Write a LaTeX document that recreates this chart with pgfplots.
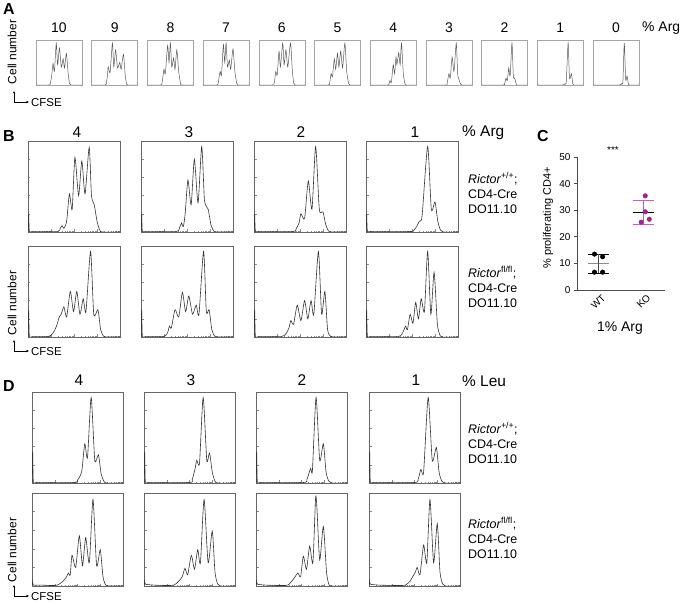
\documentclass[border=0pt]{standalone}
\usepackage{fontspec}
\setmainfont{Liberation Sans}
\usepackage{pgfplots}
\pgfplotsset{compat=1.18}
\usetikzlibrary{arrows.meta}
\definecolor{ko}{RGB}{163,35,143}
\definecolor{kol}{RGB}{200,95,185}
\newcommand\fs[2]{\fontsize{#1}{#2}\selectfont}
\pgfplotsset{
 hb/.style={scale only axis, anchor=south west, xmin=0, xmax=100, ymin=0, ymax=100, clip=true},
 hA/.style={hb, width=46bp, height=45bp, axis line style={black!35, line width=0.5pt}, xtick=\empty, ytick=\empty},
 hB/.style={hb, width=92bp, height=91bp, axis line style={black!60, line width=0.6pt},
   tick pos=left, tick align=inside, xtick={0,25,50,75,100},
   minor xtick={7.5,11.9,15.1,17.5,19.5,21.1,22.6,23.9,32.5,36.9,40.1,42.5,44.5,46.1,47.6,48.9,57.5,61.9,65.1,67.5,69.5,71.1,72.6,73.9,82.5,86.9,90.1,92.5,94.5,96.1,97.6,98.9},
   ytick={0,20,40,60,80,100}, xticklabels={}, yticklabels={},
   major tick length=2.5bp, minor tick length=1.3bp, tick style={black!45, line width=0.4pt}},
 lA/.style={black!65, line width=0.5pt, smooth, tension=0.4, mark=none},
 lB/.style={black!80, line width=0.6pt, smooth, tension=0.4, mark=none},
}
\begin{document}
\begin{tikzpicture}
\path[use as bounding box] (0,0) rectangle (683bp,604bp);
% ---------------- Panel A ----------------
\node[anchor=north west, inner sep=0, font=\bfseries\fs{16}{16}] at (3bp,601bp) {A};
\node[rotate=90, font=\fs{12}{14}] at (12bp,552bp) {Cell number};
\draw[black, line width=0.6pt, {Stealth[length=2.5bp,width=2.2bp]}-{Stealth[length=3bp,width=2.6bp]}] (14bp,513bp) -- (14bp,502bp) -- (29bp,502bp);
\node[anchor=west, inner sep=0, font=\fs{11.5}{13}] at (31bp,501bp) {CFSE};
\foreach \lab [count=\i from 0] in {10,9,8,7,6,5,4,3,2,1,0} {
  \node[font=\fs{14}{16}] at ({(59+55.7*\i)*1bp},576bp) {\lab};
}
\node[anchor=west, inner sep=0, font=\fs{14}{16}] at (642bp,576bp) {\% Arg};

\begin{axis}[hA, at={(36bp,519bp)}]
\addplot[lA] coordinates {(0,0)(28,0)(31,3)(34,20)(37,48)(40,30)(44,93)(47,45)(51,82)(55,40)(59,58)(62,38)(66,70)(70,25)(73,3)(76,0)(100,0)};
\end{axis}
\begin{axis}[hA, at={(91.7bp,519bp)}]
\addplot[lA] coordinates {(0,0)(29,0)(32,5)(34,20)(36,40)(40,28)(45,93)(48,40)(52,78)(56,38)(61,50)(64,35)(69,68)(73,20)(76,2)(78,0)(100,0)};
\end{axis}
\begin{axis}[hA, at={(147.4bp,519bp)}]
\addplot[lA] coordinates {(0,0)(29,0)(32,6)(36,35)(39,25)(44,88)(47,50)(50,93)(53,40)(57,60)(60,35)(64,78)(68,30)(72,4)(75,0)(100,0)};
\end{axis}
\begin{axis}[hA, at={(203.1bp,519bp)}]
\addplot[lA] coordinates {(0,0)(30,0)(33,6)(37,30)(40,22)(44,90)(47,50)(50,93)(53,40)(57,55)(60,35)(65,80)(69,30)(73,4)(76,0)(100,0)};
\end{axis}
\begin{axis}[hA, at={(258.8bp,519bp)}]
\addplot[lA] coordinates {(0,0)(30,0)(34,8)(37,30)(40,22)(44,75)(47,40)(52,93)(55,45)(59,78)(63,40)(69,93)(73,30)(76,4)(79,0)(100,0)};
\end{axis}
\begin{axis}[hA, at={(314.5bp,519bp)}]
\addplot[lA] coordinates {(0,0)(30,0)(33,5)(36,25)(39,18)(43,58)(46,35)(50,70)(53,40)(57,75)(61,38)(66,93)(70,30)(74,4)(77,0)(100,0)};
\end{axis}
\begin{axis}[hA, at={(370.2bp,519bp)}]
\addplot[lA] coordinates {(0,0)(38,0)(41,3)(43,10)(46,6)(50,45)(53,25)(56,62)(58,45)(62,72)(65,45)(68,93)(72,25)(75,5)(78,0)(100,0)};
\end{axis}
\begin{axis}[hA, at={(425.9bp,519bp)}]
\addplot[lA] coordinates {(0,0)(43,0)(46,3)(50,25)(53,15)(57,62)(61,30)(66,93)(69,25)(72,12)(75,3)(78,0)(100,0)};
\end{axis}
\begin{axis}[hA, at={(481.6bp,519bp)}]
\addplot[lA] coordinates {(0,0)(47,0)(50,3)(53,15)(56,10)(59,38)(62,20)(66,93)(69,20)(72,15)(75,3)(77,0)(100,0)};
\end{axis}
\begin{axis}[hA, at={(537.3bp,519bp)}]
\addplot[lA] coordinates {(0,0)(55,0)(60,3)(63,8)(67,93)(70,15)(74,25)(77,3)(79,0)(100,0)};
\end{axis}
\begin{axis}[hA, at={(593bp,519bp)}]
\addplot[lA] coordinates {(0,0)(57,0)(62,3)(65,8)(68,93)(71,12)(74,20)(77,2)(79,0)(100,0)};
\end{axis}

% ---------------- Panel B ----------------
\node[anchor=north west, inner sep=0, font=\bfseries\fs{16}{16}] at (3bp,474bp) {B};
\foreach \lab/\xx in {4/77,3/189,2/301,1/415} {
  \node[font=\fs{15.5}{17}] at (\xx bp,472bp) {\lab};
}
\node[anchor=west, inner sep=0, font=\fs{15.5}{17}] at (462bp,471bp) {\% Arg};
\node[anchor=west, align=left, inner sep=0, font=\fs{12.5}{15}] at (468bp,411bp) {\textit{Rictor}\textsuperscript{+/+};\\CD4-Cre\\DO11.10};
\node[anchor=west, align=left, inner sep=0, font=\fs{12.5}{15}] at (468bp,317bp) {\textit{Rictor}\textsuperscript{fl/fl};\\CD4-Cre\\DO11.10};
\node[rotate=90, font=\fs{12}{14}] at (12bp,301bp) {Cell number};
\draw[black, line width=0.6pt, {Stealth[length=2.5bp,width=2.2bp]}-{Stealth[length=3bp,width=2.6bp]}] (14bp,264bp) -- (14bp,253bp) -- (29bp,253bp);
\node[anchor=west, inner sep=0, font=\fs{11.5}{13}] at (31bp,252bp) {CFSE};

\begin{axis}[hB, at={(28bp,372bp)}]
\addplot[lB] coordinates {(0,0)(0.7,20)(1.5,1)(5,0.5)(32,0.5)(35,4)(37,7)(39,4)(42,12)(45,42)(48,25)(51,82)(55,40)(58.5,78)(62,42)(66.5,93)(69,40)(72,30)(75,12)(78,2)(81,0)(100,0)};
\end{axis}
\begin{axis}[hB, at={(141bp,372bp)}]
\addplot[lB] coordinates {(0,0)(0.7,20)(1.5,1)(5,0.5)(38,0.5)(42,5)(44,10)(46,6)(48,20)(51,57)(54.5,30)(58,80)(62,32)(66,94)(69,35)(73,25)(76,8)(79,1)(82,0)(100,0)};
\end{axis}
\begin{axis}[hB, at={(254bp,372bp)}]
\addplot[lB] coordinates {(0,0)(0.7,20)(1.5,1)(5,0.5)(42,0.5)(46,4)(49,10)(51,20)(55,15)(59,56)(63,25)(67,94)(71,25)(75,22)(78,8)(81,1)(84,0)(100,0)};
\end{axis}
\begin{axis}[hB, at={(366bp,372bp)}]
\addplot[lB] coordinates {(0,0)(0.7,20)(1.5,1)(5,0.5)(48,0.5)(52,2)(55,6)(58,12)(61,18)(67,94)(71,25)(75,33)(78,12)(81,2)(84,0)(100,0)};
\end{axis}
\begin{axis}[hB, at={(28bp,267bp)}]
\addplot[lB] coordinates {(0,0)(0.7,30)(1.5,1)(5,0.5)(22,0.5)(27,4)(31,12)(34,22)(36,25)(39,33)(42,22)(46,50)(49.5,28)(53,50)(56.5,25)(60,42)(63,28)(68,94)(71.5,25)(76,30)(79,8)(82,1)(85,0)(100,0)};
\end{axis}
\begin{axis}[hB, at={(141bp,267bp)}]
\addplot[lB] coordinates {(0,0)(0.7,30)(1.5,1)(5,0.5)(25,0.5)(29,5)(31,12)(33,10)(37,30)(41,22)(45,49)(48.5,28)(52,45)(56,25)(60,35)(63,25)(68,94)(71,28)(74,30)(77,8)(80,1)(83,0)(100,0)};
\end{axis}
\begin{axis}[hB, at={(254bp,267bp)}]
\addplot[lB] coordinates {(0,0)(0.7,30)(1.5,1)(5,0.5)(30,0.5)(35,4)(38,10)(40,18)(43,14)(47,35)(51,18)(55,40)(58.5,20)(62,40)(65,25)(70,94)(73.5,25)(77,50)(80,8)(83,1)(86,0)(100,0)};
\end{axis}
\begin{axis}[hB, at={(366bp,267bp)}]
\addplot[lB] coordinates {(0,0)(0.7,30)(1.5,1)(5,0.5)(35,0.5)(40,5)(43,12)(45,8)(48,25)(51,15)(54,38)(57,20)(60,42)(63.5,28)(67,94)(70.5,25)(74,71)(77.5,15)(80,3)(83,0)(100,0)};
\end{axis}

% ---------------- Panel C ----------------
\node[anchor=north west, inner sep=0, font=\bfseries\fs{16}{16}] at (537bp,474bp) {C};
\node[rotate=90, font=\fs{11}{13}] at (548bp,386bp) {\% proliferating CD4+};
\node[font=\fs{10}{12}] at (613bp,454bp) {***};
\node[font=\fs{14}{16}] at (620bp,276bp) {1\% Arg};
\begin{axis}[at={(577bp,314bp)}, anchor=south west, scale only axis, width=88bp, height=133bp,
  xmin=0.52, xmax=2.48, ymin=0, ymax=50,
  axis x line*=bottom, axis y line*=left,
  axis line style={black!70, line width=0.6pt},
  xtick={1,2}, xticklabels={WT,KO}, ytick={0,10,20,30,40,50},
  tick align=outside, major tick length=3bp, x tick style={draw=none},
  y tick style={black!70, line width=0.6pt},
  xticklabel style={rotate=45, anchor=east, inner sep=0.5bp, xshift=2bp, yshift=-6bp, font=\fs{10}{12}},
  yticklabel style={font=\fs{10}{12}},
  /pgf/number format/assume math mode=true, clip=false]
\addplot[black!45, line width=0.8pt, mark=none] coordinates {(0.76,9.9)(1.24,9.9)};
\addplot[black, line width=0.8pt, mark=none] coordinates {(0.76,13.4)(1.24,13.4)};
\addplot[black, line width=0.8pt, mark=none] coordinates {(0.76,6.3)(1.24,6.3)};
\addplot[black!70, line width=0.6pt, mark=none] coordinates {(1,6.3)(1,13.4)};
\addplot[only marks, mark=*, mark size=2.3bp, black] coordinates {(0.91,13.5)(1.09,12.5)(0.91,6.7)(1.09,6.7)};
\addplot[kol, line width=0.8pt, mark=none] coordinates {(1.76,33.7)(2.24,33.7)};
\addplot[kol, line width=0.8pt, mark=none] coordinates {(1.76,24.6)(2.24,24.6)};
\addplot[kol, line width=0.6pt, mark=none] coordinates {(2,24.6)(2,33.7)};
\addplot[black, line width=0.8pt, mark=none] coordinates {(1.76,29.1)(2.24,29.1)};
\addplot[only marks, mark=*, mark size=2.3bp, ko] coordinates {(2.04,35.4)(2.04,29.4)(1.95,25.5)(2.13,26.6)};
\end{axis}

% ---------------- Panel D ----------------
\node[anchor=north west, inner sep=0, font=\bfseries\fs{16}{16}] at (3bp,224bp) {D};
\foreach \lab/\xx in {4/79,3/191,2/302,1/416} {
  \node[font=\fs{15.5}{17}] at (\xx bp,224bp) {\lab};
}
\node[anchor=west, inner sep=0, font=\fs{15.5}{17}] at (462bp,223bp) {\% Leu};
\node[anchor=west, align=left, inner sep=0, font=\fs{12.5}{15}] at (468bp,161bp) {\textit{Rictor}\textsuperscript{+/+};\\CD4-Cre\\DO11.10};
\node[anchor=west, align=left, inner sep=0, font=\fs{12.5}{15}] at (468bp,66bp) {\textit{Rictor}\textsuperscript{fl/fl};\\CD4-Cre\\DO11.10};
\node[rotate=90, font=\fs{12}{14}] at (12bp,54bp) {Cell number};
\draw[black, line width=0.6pt, {Stealth[length=2.5bp,width=2.2bp]}-{Stealth[length=3bp,width=2.6bp]}] (14bp,19bp) -- (14bp,8bp) -- (29bp,8bp);
\node[anchor=west, inner sep=0, font=\fs{11.5}{13}] at (31bp,7bp) {CFSE};

\begin{axis}[hB, width=91bp, height=91bp, at={(32bp,121bp)}]
\addplot[lB] coordinates {(0,0)(0.7,35)(1.5,1)(5,0.5)(46,0.5)(50,3)(53,8)(55,15)(58,43)(61,28)(65,94)(69,25)(73,31)(76,10)(79,2)(82,0)(100,0)};
\end{axis}
\begin{axis}[hB, width=91bp, height=91bp, at={(144bp,121bp)}]
\addplot[lB] coordinates {(0,0)(0.7,35)(1.5,1)(5,0.5)(50,0.5)(53,4)(56,15)(58,25)(61,22)(65,94)(69,25)(72,33)(75,12)(78,2)(81,0)(100,0)};
\end{axis}
\begin{axis}[hB, width=91bp, height=91bp, at={(256bp,121bp)}]
\addplot[lB] coordinates {(0,0)(0.7,35)(1.5,1)(5,0.5)(52,0.5)(56,4)(60,16)(62,14)(66,94)(70,25)(74,43)(77,12)(80,2)(83,0)(100,0)};
\end{axis}
\begin{axis}[hB, width=91bp, height=91bp, at={(369bp,121bp)}]
\addplot[lB] coordinates {(0,0)(0.7,35)(1.5,1)(5,0.5)(50,0.5)(54,4)(57,15)(60,12)(65,94)(69.5,25)(74,39)(77,12)(80,2)(83,0)(100,0)};
\end{axis}
\begin{axis}[hB, width=91bp, height=93bp, at={(32bp,18bp)}]
\addplot[lB] coordinates {(0,0)(0.7,5)(1.5,1)(10,1)(22,0.5)(28,1)(34,5)(38,10)(40,14)(42,12)(44,33)(48,20)(52,54)(55.5,22)(59,52)(63,25)(67,93)(71,22)(75,39)(78,10)(81,1)(84,0)(100,0)};
\end{axis}
\begin{axis}[hB, width=91bp, height=93bp, at={(144bp,18bp)}]
\addplot[lB] coordinates {(0,0)(0.7,5)(1.5,2)(10,1)(25,0.5)(33,1)(38,5)(42,10)(45,19)(48,12)(52,33)(55.5,18)(59,39)(62,25)(66,93)(70.5,25)(75,59)(78,15)(81,2)(84,0)(100,0)};
\end{axis}
\begin{axis}[hB, width=91bp, height=93bp, at={(256bp,18bp)}]
\addplot[lB] coordinates {(0,0)(0.7,5)(1.5,2)(10,1)(28,0.5)(35,1)(40,6)(43,10)(46,14)(49,10)(52,32)(55.5,18)(59,43)(62.5,25)(65.5,95)(67,83)(70,28)(74,64)(77.5,15)(80,2)(83,0)(100,0)};
\end{axis}
\begin{axis}[hB, width=91bp, height=93bp, at={(369bp,18bp)}]
\addplot[lB] coordinates {(0,0)(0.7,5)(1.5,2)(10,1)(32,0.5)(40,1)(45,5)(48,10)(51,15)(53,20)(56,12)(60,44)(63.5,25)(67,93)(71,25)(75,67)(78,15)(81,2)(84,0)(100,0)};
\end{axis}
\end{tikzpicture}
\end{document}
